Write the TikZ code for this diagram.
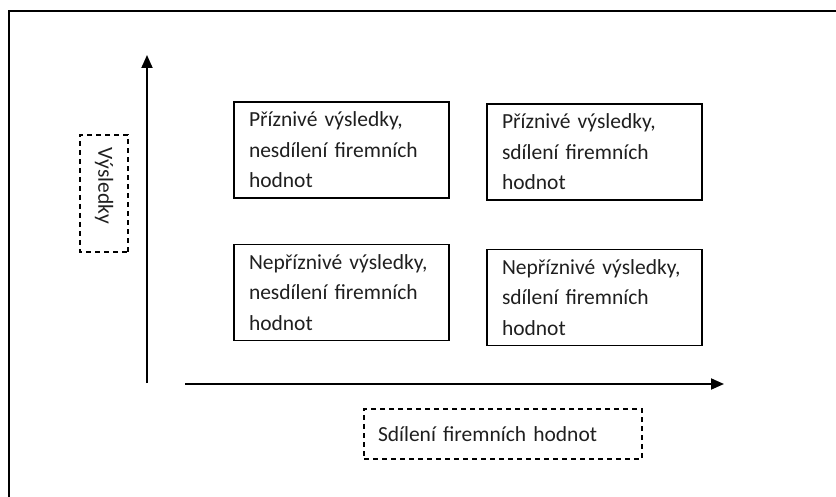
\documentclass[tikz,border=0pt]{standalone}
\usepackage{fontspec}
\setmainfont{Carlito}
\usetikzlibrary{arrows.meta}
\begin{document}
\begin{tikzpicture}[x=1pt,y=-1pt,
  cell/.style={draw=black,line width=1.4pt,minimum height=96pt,text width=185pt,inner xsep=15pt,align=left,
    font=\fontsize{21.5pt}{30.5pt}\selectfont,text=black!88},
  dashlabel/.style={draw=black,line width=1.4pt,dash pattern=on 5pt off 4pt,align=left,
    font=\fontsize{21.5pt}{24pt}\selectfont,text=black!88},
  axis/.style={line width=1.8pt,-{Triangle[length=13pt,width=11pt]}}]
\useasboundingbox (0,0) rectangle (836,497);
\draw[line width=2pt] (9,497) -- (9,11) -- (836,11);
% boxes
\node[cell] (tl) at (341.5,150) {Příznivé výsledky,\\ nesdílení firemních\\ hodnot};
\node[cell] (tr) at (594.5,152) {Příznivé výsledky,\\ sdílení firemních\\ hodnot};
\node[cell] (bl) at (341.5,292.5) {Nepříznivé výsledky,\\ nesdílení firemních\\ hodnot};
\node[cell] (br) at (594.5,297.5) {Nepříznivé výsledky,\\ sdílení firemních\\ hodnot};
% labels
\node[dashlabel,minimum width=278pt,minimum height=50pt,text width=250pt,inner xsep=14pt] (xl) at (503,434) {Sdílení firemních hodnot};
\node[dashlabel,rotate=-90,minimum width=117pt,minimum height=48pt,text width=91pt,inner xsep=13pt] (yl) at (104,193.5) {Výsledky};
% axes
\coordinate (yo) at (147,383);
\coordinate (yt) at (147,55);
\coordinate (xo) at (185,384);
\coordinate (xt) at (724,384);
\draw[axis] (yo) -- (yt);
\draw[axis] (xo) -- (xt);
\end{tikzpicture}
\end{document}
